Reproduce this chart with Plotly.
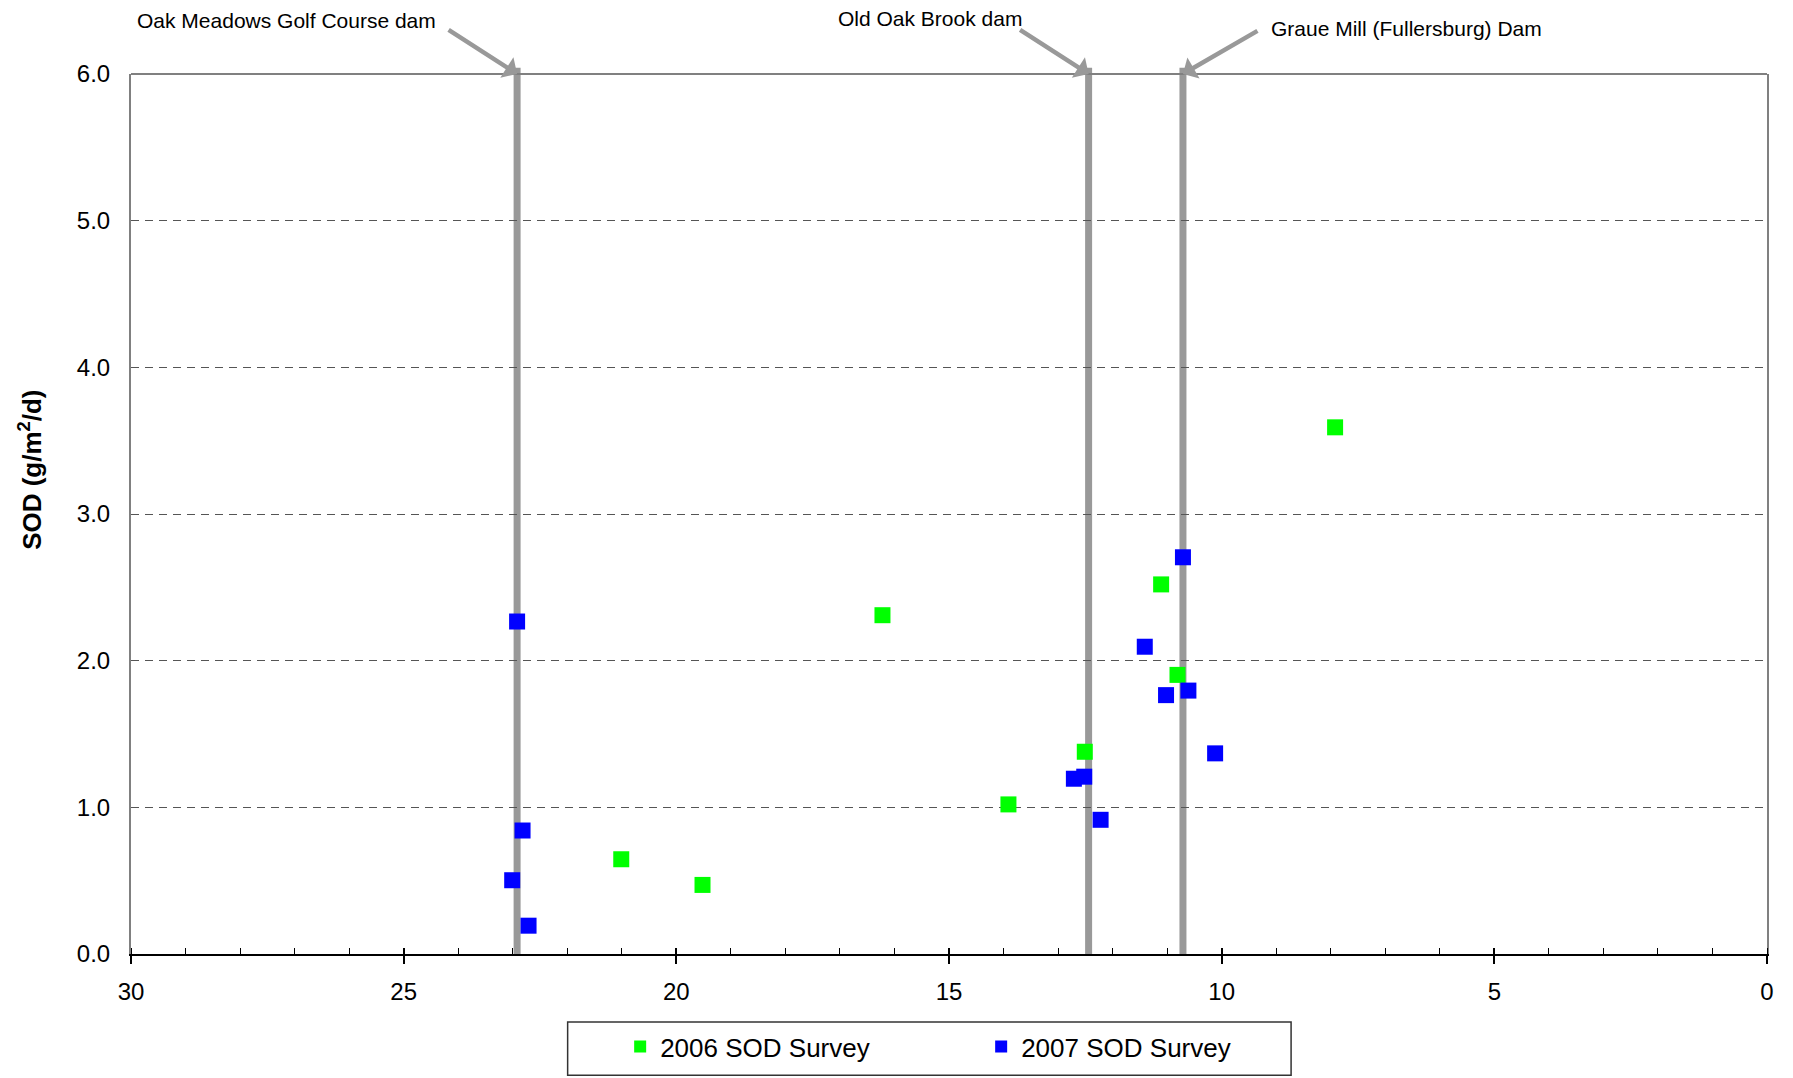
import plotly.graph_objects as go

# ---- data ----
x_2006 = [21.01, 19.52, 16.22, 13.91, 12.51, 11.11, 10.81, 7.92]
y_2006 = [0.646, 0.471, 2.31, 1.02, 1.379, 2.52, 1.903, 3.591]

x_2007 = [22.92, 22.82, 23.01, 22.71, 12.71, 12.52, 12.22, 11.41, 11.02, 10.71, 10.61, 10.12]
y_2007 = [2.267, 0.842, 0.503, 0.193, 1.195, 1.209, 0.915, 2.095, 1.765, 2.705, 1.796, 1.368]

dam_names = ["Oak Meadows Golf Course dam", "Old Oak Brook dam", "Graue Mill (Fullersburg) Dam"]
dam_x = [22.92, 12.44, 10.71]

x_ticks = [30, 25, 20, 15, 10, 5, 0]
y_ticks = [0.0, 1.0, 2.0, 3.0, 4.0, 5.0, 6.0]

series_names = ["2006 SOD Survey", "2007 SOD Survey"]
series_colors = ["#00FF00", "#0000FF"]
y_title = "<b>SOD (g/m<sup>2</sup>/d)</b>"

FONT = "Liberation Sans, Arial, Helvetica, sans-serif"
GRAY = "#999999"

fig = go.Figure()

for name, xs, ys, col in zip(series_names, [x_2006, x_2007], [y_2006, y_2007], series_colors):
    fig.add_trace(go.Scatter(
        x=xs, y=ys, mode="markers", name=name,
        marker=dict(symbol="square", size=16, color=col, line=dict(width=0)),
        cliponaxis=False,
    ))

# empty helper trace to activate the overlay axis (inside major ticks)
fig.add_trace(go.Scatter(x=[None], y=[None], xaxis="x2", yaxis="y",
                         showlegend=False, hoverinfo="skip"))

shapes = []
# dam vertical lines
for d in dam_x:
    shapes.append(dict(type="line", xref="x", yref="paper", x0=d, x1=d, y0=-0.002, y1=1.007,
                       line=dict(color=GRAY, width=7), layer="between"))
# top border
shapes.append(dict(type="line", xref="paper", yref="paper", x0=0, x1=1, y0=1, y1=1,
                   line=dict(color="#808080", width=2)))
# legend frame
shapes.append(dict(type="rect", xref="paper", yref="paper", x0=0.2669, x1=0.7091,
                   y0=-0.1377, y1=-0.0774, line=dict(color="#333333", width=1.5),
                   fillcolor="rgba(0,0,0,0)"))

annotations = []
arrow_offsets = [(-70, -45), (-70, -45), (76, -44)]
label_shifts = [(-231, 54), (-159, 56), (224, 46)]
for name, d, (ax, ay), (xs, ys) in zip(dam_names, dam_x, arrow_offsets, label_shifts):
    annotations.append(dict(x=d, y=6.0, xref="x", yref="y", text="",
                            showarrow=True, arrowhead=1, arrowsize=0.9, arrowwidth=4.5,
                            arrowcolor=GRAY, ax=ax, ay=ay, standoff=0))
    annotations.append(dict(x=d, y=6.0, xref="x", yref="y", text=name, showarrow=False,
                            xshift=xs, yshift=ys, xanchor="center", yanchor="middle",
                            font=dict(family=FONT, size=21, color="black")))

# y-axis title (placed above the vertical middle, as in the reference)
annotations.append(dict(x=-0.0615, y=0.5506, xref="paper", yref="paper", text=y_title,
                        textangle=-90, showarrow=False, xanchor="center", yanchor="middle",
                        font=dict(family=FONT, size=26, color="black")))

fig.update_layout(
    width=1793, height=1078,
    margin=dict(l=123, r=34, t=66, b=132),
    paper_bgcolor="white", plot_bgcolor="white",
    font=dict(family=FONT, color="black"),
    showlegend=True,
    legend=dict(orientation="h", x=0.299, y=-0.1051, xanchor="left", yanchor="middle",
                font=dict(family=FONT, size=26, color="black"),
                bgcolor="rgba(0,0,0,0)", entrywidth=316, entrywidthmode="pixels",
                itemsizing="constant"),
    xaxis=dict(range=[30, 0], tickvals=x_ticks, ticktext=[str(v) for v in x_ticks],
               ticks="outside", ticklen=8, tickwidth=1.5, tickcolor="black",
               showline=True, linecolor="black", linewidth=2,
               showgrid=False, zeroline=False,
               minor=dict(ticks="inside", ticklen=6, dtick=1, tickwidth=1.2, tickcolor="black",
                          showgrid=False),
               tickfont=dict(family=FONT, size=24, color="black"),
               ticklabelstandoff=7),
    xaxis2=dict(overlaying="x", matches="x", anchor="y", side="bottom",
                tickvals=x_ticks, ticks="inside", ticklen=6, tickwidth=1.5,
                tickcolor="black", showticklabels=False, showline=False,
                showgrid=False, zeroline=False),
    yaxis=dict(range=[0, 6], tickvals=y_ticks, ticktext=[f"{v:.1f}" for v in y_ticks],
               ticks="", showline=True, linecolor="#808080", linewidth=2, mirror=True,
               showgrid=True, gridcolor="#555555", gridwidth=1, griddash="8px,6px",
               zeroline=False,
               tickfont=dict(family=FONT, size=24, color="black"),
               ticklabelstandoff=14),
    shapes=shapes,
    annotations=annotations,
)

fig.write_html("out.html")
